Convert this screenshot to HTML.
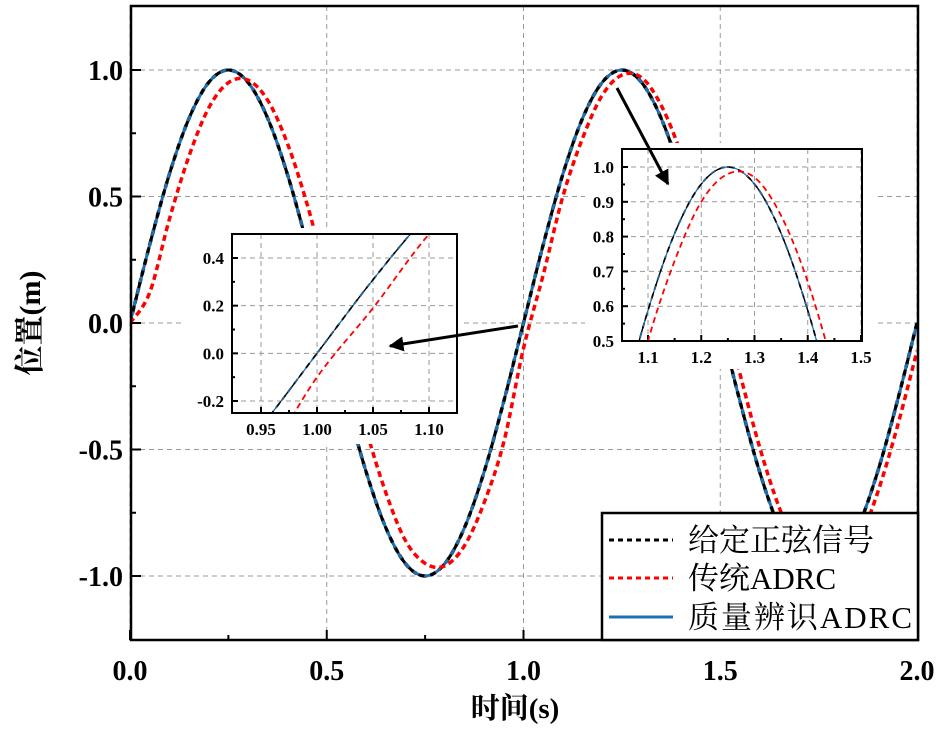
<!DOCTYPE html>
<html><head><meta charset="utf-8"><style>
html,body{margin:0;padding:0;background:#fff;overflow:hidden;width:944px;height:734px;}
svg{display:block;}
text{font-family:"Liberation Serif","Noto Serif CJK SC",serif;}
</style></head><body>
<svg id="chart" width="944" height="734" viewBox="0 0 944 734">
<defs>
<clipPath id="cMain"><rect x="131" y="6" width="787" height="634"/></clipPath>
<clipPath id="cL"><rect x="232" y="234" width="225" height="179"/></clipPath>
<clipPath id="cR"><rect x="622" y="149" width="240" height="192"/></clipPath>
<marker id="ah" viewBox="0 0 10 10" refX="9" refY="5" markerWidth="5" markerHeight="5" orient="auto"><path d="M0,0 L10,5 L0,10 z" fill="#000"/></marker>
</defs>
<g id="root"></g>
</svg>
<script>
const times=[0,0.05,0.1,0.15,0.2,0.25,0.3,0.35,0.4,0.45,0.5,0.55,0.6,0.65,0.7,0.75,0.8,0.85,0.9,0.95,1.0,1.05,1.1,1.15,1.2,1.25,1.3,1.35,1.4,1.45,1.5,1.55,1.6,1.65,1.7,1.75,1.8,1.85,1.9,1.95,2.0];
const refSignal=[0,0.309,0.588,0.809,0.951,1,0.951,0.809,0.588,0.309,0,-0.309,-0.588,-0.809,-0.951,-1,-0.951,-0.809,-0.588,-0.309,0,0.309,0.588,0.809,0.951,1,0.951,0.809,0.588,0.309,0,-0.309,-0.588,-0.809,-0.951,-1,-0.951,-0.809,-0.588,-0.309,0];
const adrcSignal=[0,0.12,0.41,0.66,0.85,0.95,0.96,0.88,0.71,0.47,0.18,-0.12,-0.42,-0.67,-0.86,-0.95,-0.96,-0.88,-0.71,-0.47,-0.1,0.19,0.5,0.73,0.9,0.98,0.97,0.86,0.67,0.41,0.11,-0.2,-0.49,-0.73,-0.9,-0.98,-0.97,-0.87,-0.67,-0.41,-0.11];
const massIdSignal=[0,0.309,0.588,0.809,0.951,1,0.951,0.809,0.588,0.309,0,-0.309,-0.588,-0.809,-0.951,-1,-0.951,-0.809,-0.588,-0.309,0,0.309,0.588,0.809,0.951,1,0.951,0.809,0.588,0.309,0,-0.309,-0.588,-0.809,-0.951,-1,-0.951,-0.809,-0.588,-0.309,0];
const mainXTicks=["0.0","0.5","1.0","1.5","2.0"];
const mainYTicks=["-1.0","-0.5","0.0","0.5","1.0"];
const leftXTicks=["0.95","1.00","1.05","1.10"];
const leftYTicks=["-0.2","0.0","0.2","0.4"];
const rightXTicks=["1.1","1.2","1.3","1.4","1.5"];
const rightYTicks=["0.5","0.6","0.7","0.8","0.9","1.0"];

const NS="http://www.w3.org/2000/svg";
const root=document.getElementById('root');
function mk(tag,attrs,parent){const e=document.createElementNS(NS,tag);for(const k in attrs)e.setAttribute(k,attrs[k]);(parent||root).appendChild(e);return e;}
function scale(d0,d1,r0,r1){return v=>r0+(v-d0)/(d1-d0)*(r1-r0);}
function pathD(xs,ys,sx,sy){
  const p=xs.map((x,i)=>[sx(x),sy(ys[i])]);
  let d=`M${p[0][0]},${p[0][1]}`;
  for(let i=0;i<p.length-1;i++){
    const p0=p[Math.max(0,i-1)],p1=p[i],p2=p[i+1],p3=p[Math.min(p.length-1,i+2)];
    const c1=[p1[0]+(p2[0]-p0[0])/6,p1[1]+(p2[1]-p0[1])/6];
    const c2=[p2[0]-(p3[0]-p1[0])/6,p2[1]-(p3[1]-p1[1])/6];
    d+=` C${c1[0]},${c1[1]} ${c2[0]},${c2[1]} ${p2[0]},${p2[1]}`;
  }
  return d;
}
function drawSeries(g,sx,sy,clip,w){
  let e;
  e=mk('path',{d:pathD(times,refSignal,sx,sy),fill:'none',stroke:'#000','stroke-width':w+0.5,'stroke-dasharray':'6,4','clip-path':`url(#${clip})`},g);
  
  
  e=mk('path',{d:pathD(times,massIdSignal,sx,sy),fill:'none',stroke:'#1f6fb0','stroke-width':w,'clip-path':`url(#${clip})`},g);
  
  
  e=mk('path',{d:pathD(times,refSignal,sx,sy),fill:'none',stroke:'#000','stroke-width':w,'stroke-dasharray':'6,6','clip-path':`url(#${clip})`},g);
  
  
  e=mk('path',{d:pathD(times,adrcSignal,sx,sy),fill:'none',stroke:'#ff0000','stroke-width':w+0.5,'stroke-dasharray':'6,4','clip-path':`url(#${clip})`},g);
  
  
}
function axesBox(g,x0,y0,x1,y1,xt,yt,sx,sy,fs,name,minorX,minorY,tl,xoff){
  const gg=mk('g',{},g);
  
  
  xt.forEach(t=>{const x=sx(parseFloat(t));
    mk('line',{x1:x,x2:x,y1:y0,y2:y1,stroke:'#999','stroke-dasharray':'5,4','stroke-width':1},gg);
    mk('line',{x1:x,x2:x,y1:y1,y2:y1-tl,stroke:'#000','stroke-width':2},gg);
    const e=mk('text',{x:x,y:y1+xoff,'text-anchor':'middle','font-size':fs,'font-weight':'bold'},gg);e.textContent=t;
    
    
  });
  yt.forEach(t=>{const y=sy(parseFloat(t));
    mk('line',{x1:x0,x2:x1,y1:y,y2:y,stroke:'#999','stroke-dasharray':'5,4','stroke-width':1},gg);
    mk('line',{x1:x0,x2:x0+tl,y1:y,y2:y,stroke:'#000','stroke-width':2},gg);
    const e=mk('text',{x:x0-8,y:y+fs*0.35,'text-anchor':'end','font-size':fs,'font-weight':'bold'},gg);e.textContent=t;
    
    
  });
  minorX.forEach(v=>{const x=sx(v);mk('line',{x1:x,x2:x,y1:y1,y2:y1-tl/2,stroke:'#000','stroke-width':2},gg);});
  minorY.forEach(v=>{const y=sy(v);mk('line',{x1:x0,x2:x0+tl/2,y1:y,y2:y,stroke:'#000','stroke-width':2},gg);});
}
// main
const sx=scale(0,2,130,917), sy=scale(-1,1,576,70);
axesBox(root,131,6,918,640,mainXTicks,mainYTicks,sx,sy,28,'main',[0.25,0.75,1.25,1.75],[-0.75,-0.25,0.25,0.75],10,40);
drawSeries(root,sx,sy,'cMain',3);
mk('rect',{x:131,y:6,width:787,height:634,fill:'none',stroke:'#000','stroke-width':2.5});
let t=mk('text',{x:515,y:718,'text-anchor':'middle','font-size':29,'font-weight':'bold'});t.textContent='时间(s)';


t=mk('text',{x:0,y:0,'text-anchor':'middle','font-size':30,'font-weight':'bold',transform:'translate(40,323) rotate(-90)'});t.textContent='位置(m)';



// left inset
const gl=mk('g',{});


mk('rect',{x:185,y:228,width:278,height:216,fill:'#fff'},gl);
const lx=scale(0.95,1.10,261,429), ly=scale(-0.2,0.4,401,258);
axesBox(gl,232,234,457,413,leftXTicks,leftYTicks,lx,ly,17,'inset-left',[0.975,1.025,1.075],[-0.1,0.1,0.3],6,22);
drawSeries(gl,lx,ly,'cL',1.3);
mk('rect',{x:232,y:234,width:225,height:179,fill:'none',stroke:'#000','stroke-width':2},gl);

// right inset
const gr=mk('g',{});


mk('rect',{x:585,y:143,width:290,height:226,fill:'#fff'},gr);
const rx=scale(1.1,1.5,648,861), ry=scale(0.5,1.0,341,167);
axesBox(gr,622,149,862,341,rightXTicks,rightYTicks,rx,ry,17,'inset-right',[1.15,1.25,1.35,1.45],[0.55,0.65,0.75,0.85,0.95],6,22);
drawSeries(gr,rx,ry,'cR',1.3);
mk('rect',{x:622,y:149,width:240,height:192,fill:'none',stroke:'#000','stroke-width':2},gr);

// arrows
t=mk('line',{x1:518,y1:326,x2:390,y2:346,stroke:'#000','stroke-width':3,'marker-end':'url(#ah)'});


t=mk('line',{x1:617,y1:88,x2:668,y2:184,stroke:'#000','stroke-width':3,'marker-end':'url(#ah)'});



// legend
const lg=mk('g',{});


mk('rect',{x:602,y:513,width:316,height:127,fill:'#fff',stroke:'#000','stroke-width':2.5},lg);
const entries=[['给定正弦信号','#000','5,4',540],['传统ADRC','#ff0000','5,4',578],['质量辨识ADRC','#1f6fb0','',617]];
entries.forEach(en=>{
  const g=mk('g',{},lg);
  
  
  const a={x1:609,x2:673,y1:en[3],y2:en[3],stroke:en[1],'stroke-width':3};
  if(en[2])a['stroke-dasharray']=en[2];
  mk('line',a,g);
  const tx=mk('text',{x:688,y:en[3]+11,'font-size':31},g);tx.textContent=en[0];
  if(en[0].length>6)tx.setAttribute('textLength','224');
});
</script>
</body></html>
